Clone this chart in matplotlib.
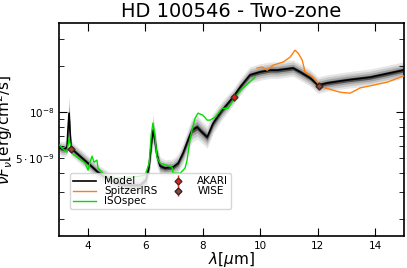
import numpy as np
import matplotlib
matplotlib.use("Agg")
import matplotlib.pyplot as plt
from matplotlib.ticker import FixedLocator, FixedFormatter

# ---- data ----
model_wl = [3.02, 3.16, 3.27, 3.30, 3.34, 3.37, 3.41, 3.48, 3.72, 4.00, 4.35,
            4.77, 5.29, 5.81, 6.02, 6.13, 6.20, 6.26, 6.33, 6.40, 6.51, 6.68,
            6.96, 7.14, 7.31, 7.48, 7.62, 7.80, 7.97, 8.15, 8.36, 8.67, 9.05,
            9.30, 9.64, 9.99, 10.34, 10.59, 11.14, 11.39, 11.74, 12.01, 12.33,
            13.02, 13.83, 14.98]
model_flux = [5.82e-9, 5.73e-9, 5.90e-9, 7.62e-9, 9.85e-9, 7.62e-9, 5.82e-9,
              5.65e-9, 5.16e-9, 4.64e-9, 4.05e-9, 3.60e-9, 3.33e-9, 3.33e-9,
              3.60e-9, 4.50e-9, 6.09e-9, 7.62e-9, 6.56e-9, 5.24e-9, 4.44e-9,
              4.31e-9, 4.37e-9, 4.64e-9, 5.40e-9, 6.56e-9, 7.62e-9, 7.98e-9,
              7.40e-9, 6.87e-9, 8.48e-9, 1.03e-8, 1.25e-8, 1.46e-8, 1.75e-8,
              1.83e-8, 1.88e-8, 1.88e-8, 1.94e-8, 1.83e-8, 1.67e-8, 1.50e-8,
              1.55e-8, 1.62e-8, 1.69e-8, 1.88e-8]
model_spread = [0.016, 0.016, 0.018, 0.03, 0.04, 0.03, 0.018, 0.016, 0.016,
                0.016, 0.016, 0.016, 0.016, 0.016, 0.018, 0.025, 0.03, 0.035,
                0.03, 0.025, 0.02, 0.018, 0.018, 0.02, 0.022, 0.024, 0.026,
                0.026, 0.024, 0.024, 0.022, 0.02, 0.018, 0.018, 0.018, 0.018,
                0.018, 0.018, 0.018, 0.018, 0.018, 0.018, 0.018, 0.018, 0.018,
                0.018]

iso_wl = [3.02, 3.09, 3.27, 3.34, 3.44, 3.62, 3.90, 4.00, 4.07, 4.14, 4.21,
          4.31, 4.35, 4.49, 4.59, 4.94, 5.29, 5.57, 5.81, 5.99, 6.13, 6.20,
          6.26, 6.33, 6.40, 6.51, 6.75, 6.93, 6.96, 7.21, 7.38, 7.45, 7.55,
          7.62, 7.73, 7.83, 8.00, 8.15, 8.25, 8.43, 8.67, 8.88, 9.12, 9.40,
          9.82]
iso_flux = [6.09e-9, 5.82e-9, 5.48e-9, 6.76e-9, 5.40e-9, 5.08e-9, 4.64e-9,
            4.18e-9, 4.71e-9, 5.16e-9, 4.71e-9, 4.86e-9, 4.31e-9, 4.05e-9,
            3.82e-9, 3.71e-9, 3.76e-9, 3.76e-9, 3.82e-9, 3.88e-9, 4.64e-9,
            7.07e-9, 8.48e-9, 7.07e-9, 5.08e-9, 4.64e-9, 4.50e-9, 4.37e-9,
            3.99e-9, 3.99e-9, 4.31e-9, 4.86e-9, 6.56e-9, 7.62e-9, 9.14e-9,
            9.85e-9, 9.56e-9, 8.87e-9, 8.87e-9, 9.28e-9, 1.06e-8, 1.06e-8,
            1.25e-8, 1.44e-8, 1.69e-8]

irs_wl = [9.89, 10.06, 10.24, 10.45, 10.79, 11.04, 11.21, 11.32, 11.46, 11.56,
          11.73, 11.84, 11.98, 12.15, 12.43, 12.78, 13.13, 13.48, 13.93, 14.42,
          14.98]
irs_flux = [1.94e-8, 1.97e-8, 1.88e-8, 2.03e-8, 2.12e-8, 2.29e-8, 2.54e-8,
            2.43e-8, 2.19e-8, 1.83e-8, 1.75e-8, 1.69e-8, 1.57e-8, 1.46e-8,
            1.41e-8, 1.35e-8, 1.33e-8, 1.44e-8, 1.50e-8, 1.57e-8, 1.72e-8]

akari_wl = [9.09]
akari_flux = [1.25e-8]
akari_err = [0.06e-8]
wise_wl = [3.41, 12.05]
wise_flux = [5.73e-9, 1.48e-8]
wise_err = [0.15e-9, 0.04e-8]

title = "HD 100546 - Two-zone"
xticks = [4, 6, 8, 10, 12, 14]

# ---- plot ----
fig = plt.figure(figsize=(4.07, 2.68), dpi=100)
ax = fig.add_axes([0.1457, 0.119, 0.8465, 0.795])

wl = np.array(model_wl)
fl = np.array(model_flux)
sp = np.array(model_spread)
for k, c in [(3.0, '#e6e6e6'), (2.2, '#c8c8c8'), (1.4, '#a0a0a0'), (0.7, '#505050')]:
    ax.fill_between(wl, fl * 10 ** (-k * sp), fl * 10 ** (k * sp), color=c, lw=0, zorder=1)
ax.plot(wl, fl, color='black', lw=1.2, label='Model', zorder=3)
ax.plot(irs_wl, irs_flux, color='#ff7f0e', lw=1.0, label='SpitzerIRS', zorder=4)
ax.plot(iso_wl, iso_flux, color='#00e000', lw=1.0, label='ISOspec', zorder=4)
ax.errorbar(akari_wl, akari_flux, yerr=akari_err, fmt='D', ms=3.5, color='#e02020',
            mec='#602020', ecolor='#e03030', elinewidth=1, label='AKARI', zorder=5)
ax.errorbar(wise_wl, wise_flux, yerr=wise_err, fmt='D', ms=3.5, color='#8b4a3a',
            mec='#402020', ecolor='#e03030', elinewidth=1, label='WISE', zorder=5)

ax.set_yscale('log')
ax.set_xlim(3, 15)
ax.set_ylim(1.55e-9, 3.82e-8)
ax.set_xticks(xticks)
ax.set_xticklabels([str(t) for t in xticks])
ax.yaxis.set_major_locator(FixedLocator([1e-8]))
ax.yaxis.set_major_formatter(FixedFormatter([r'$10^{-8}$']))
minor = [2e-9, 3e-9, 4e-9, 5e-9, 6e-9, 7e-9, 8e-9, 9e-9, 2e-8, 3e-8]
ax.yaxis.set_minor_locator(FixedLocator(minor))
ax.yaxis.set_minor_formatter(FixedFormatter(['', '', '', r'$5\cdot10^{-9}$', '', '', '', '', '', '']))
ax.tick_params(which='both', direction='in', top=True, right=True, labelsize=7.5)
ax.tick_params(which='major', length=6)
ax.tick_params(which='minor', length=3.5)
for s in ax.spines.values():
    s.set_linewidth(1.2)

ax.set_title(title, fontsize=14, pad=4)
ax.set_xlabel(r'$\lambda[\mu$m]', fontsize=11, labelpad=-1)
ax.set_ylabel(r'$\nu F_\nu$[erg/cm$^2$/s]', fontsize=11, labelpad=0)

ax.legend(loc='upper left', bbox_to_anchor=(0.031, 0.296), borderaxespad=0,
          ncol=2, fontsize=7.5, labelspacing=0.0, columnspacing=0.8,
          handlelength=2.2, handletextpad=0.8, borderpad=0.3)

fig.savefig('out.png', dpi=100)
